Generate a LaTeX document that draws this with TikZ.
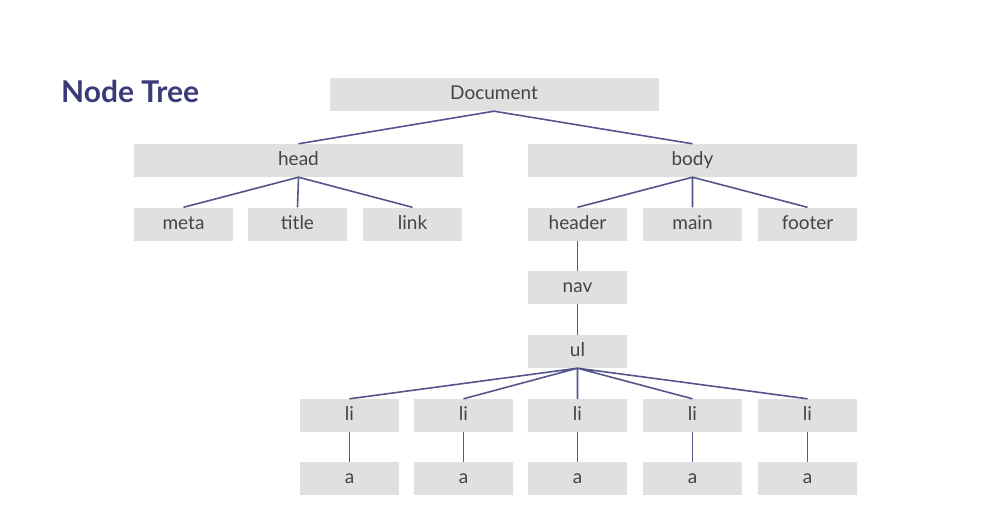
\documentclass[tikz,border=0pt]{standalone}
\usepackage{fontspec}
\setmainfont{Lato}
\definecolor{boxgray}{HTML}{E0E0E0}
\definecolor{edgeblue}{HTML}{55558C}
\definecolor{titleblue}{HTML}{3A3A78}
\definecolor{textgray}{HTML}{444444}

\begin{document}
\begin{tikzpicture}[x=1pt, y=-1pt]
    \tikzstyle{every node}=[rectangle, inner sep=0pt, fill=boxgray, text=textgray, font=\fontsize{19}{22}\selectfont, minimum height=33pt, text height=13pt, text depth=3pt]
    \tikzstyle{wide}=[minimum width=329pt]
    \tikzstyle{small}=[minimum width=99pt]
    \tikzstyle{link}=[draw=edgeblue, line width=1.6pt]
    \useasboundingbox (0,0) rectangle (991,519);
    \node [fill=none, text=titleblue, font=\fontsize{30}{34}\bfseries, text height=21pt, text depth=6pt, anchor=west] (heading) at (61,95) {Node Tree};
    \node [wide] (document) at (494,94.5) {Document};
    \node [wide] (head) at (298.5,160.5) {head};
    \node [wide] (body) at (692.5,160.5) {body};
    \node [small] (meta) at (183.5,224) {meta};
    \node [small] (title) at (297.5,224) {title};
    \node [small] (linknode) at (412.5,224) {link};
    \node [small] (header) at (577.5,224) {header};
    \node [small] (main) at (692.5,224) {main};
    \node [small] (footer) at (807.5,224) {footer};
    \node [small] (nav) at (577.5,287.5) {nav};
    \node [small] (ul) at (577.5,351.5) {ul};
    \node [small] (li1) at (349.5,415.5) {li};
    \node [small] (li2) at (463.5,415.5) {li};
    \node [small] (li3) at (577.5,415.5) {li};
    \node [small] (li4) at (692.5,415.5) {li};
    \node [small] (li5) at (807.5,415.5) {li};
    \node [small] (a1) at (349.5,478.5) {a};
    \node [small] (a2) at (463.5,478.5) {a};
    \node [small] (a3) at (577.5,478.5) {a};
    \node [small] (a4) at (692.5,478.5) {a};
    \node [small] (a5) at (807.5,478.5) {a};
    \draw [link] (document.south) -- (head.north) (document.south) -- (body.north);
    \draw [link] (head.south) -- (meta.north) (head.south) -- (title.north) (head.south) -- (linknode.north);
    \draw [link] (body.south) -- (header.north) (body.south) -- (main.north) (body.south) -- (footer.north);
    \draw [link] (header.south) -- (nav.north) (nav.south) -- (ul.north);
    \draw [link] (ul.south) -- (li1.north) (ul.south) -- (li2.north) (ul.south) -- (li3.north) (ul.south) -- (li4.north) (ul.south) -- (li5.north);
    \draw [link] (li1.south) -- (a1.north) (li2.south) -- (a2.north) (li3.south) -- (a3.north) (li4.south) -- (a4.north) (li5.south) -- (a5.north);
\end{tikzpicture}
\end{document}
